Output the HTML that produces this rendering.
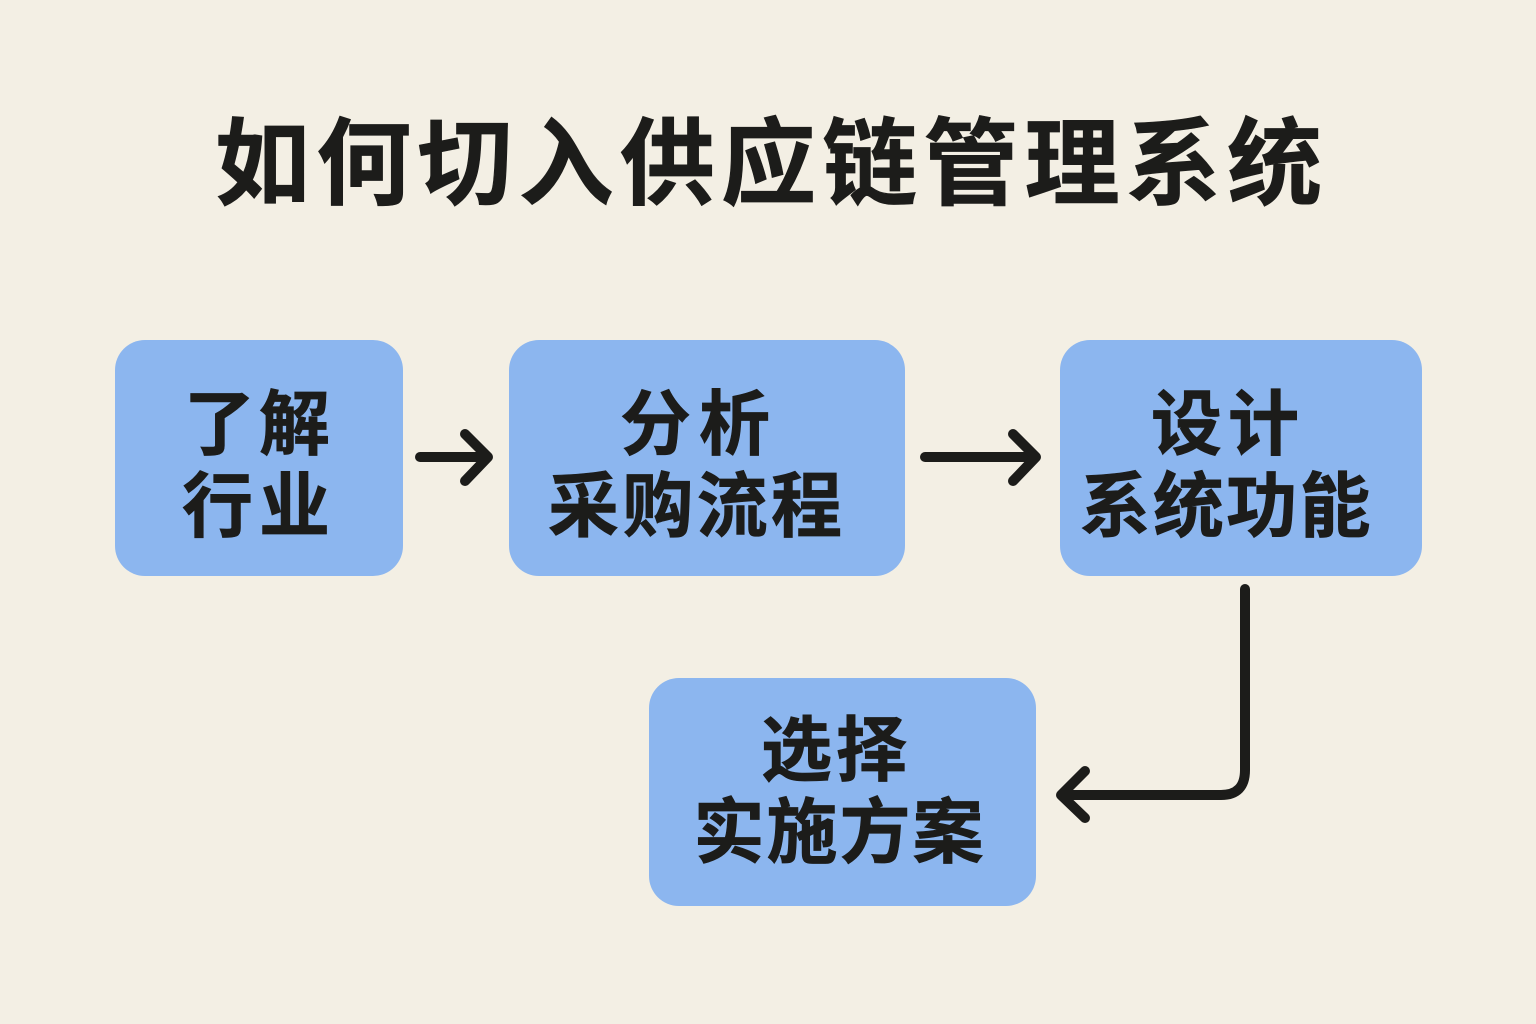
<!DOCTYPE html>
<html lang="zh">
<head>
<meta charset="utf-8">
<style>
html,body{margin:0;padding:0;background:#f3efe4;}
svg{display:block;}
text{font-family:"Liberation Sans","Noto Sans CJK SC",sans-serif;font-weight:700;fill:#1c1c1a;stroke:#1c1c1a;stroke-width:.7px;}
</style>
</head>
<body>
<svg width="1536" height="1024" viewBox="0 0 1536 1024" xmlns="http://www.w3.org/2000/svg">
<rect width="1536" height="1024" fill="#f3efe4"/>
<text x="768.5" y="197" font-size="95" text-anchor="middle" textLength="1107" lengthAdjust="spacing">如何切入供应链管理系统</text>

<rect x="115" y="340" width="288" height="236" rx="30" fill="#8cb6ef"/>
<rect x="509" y="340" width="396" height="236" rx="30" fill="#8cb6ef"/>
<rect x="1060" y="340" width="362" height="236" rx="30" fill="#8cb6ef"/>
<rect x="649" y="678" width="387" height="228" rx="30" fill="#8cb6ef"/>

<text x="257" y="449" font-size="71" text-anchor="middle" textLength="146" lengthAdjust="spacing">了解</text>
<text x="256" y="531" font-size="71" text-anchor="middle" textLength="148" lengthAdjust="spacing">行业</text>
<text x="695" y="449" font-size="71" text-anchor="middle" textLength="150" lengthAdjust="spacing">分析</text>
<text x="695" y="531" font-size="71" text-anchor="middle" textLength="294" lengthAdjust="spacing">采购流程</text>
<text x="1225" y="449" font-size="71" text-anchor="middle" textLength="148" lengthAdjust="spacing">设计</text>
<text x="1225" y="531" font-size="71" text-anchor="middle" textLength="291" lengthAdjust="spacing">系统功能</text>
<text x="834" y="775" font-size="71" text-anchor="middle" textLength="146" lengthAdjust="spacing">选择</text>
<text x="838.5" y="857" font-size="71" text-anchor="middle" textLength="290" lengthAdjust="spacing">实施方案</text>

<g fill="none" stroke="#1c1c1a" stroke-width="10" stroke-linecap="round" stroke-linejoin="round">
<path d="M420 457H486"/>
<path d="M465 434L488 457L465 481"/>
<path d="M925 457H1034"/>
<path d="M1013 434L1036 457L1013 481"/>
<path d="M1245 589V770Q1245 795 1221 795H1062"/>
<path d="M1085 771L1061 795L1085 818"/>
</g>
</svg>
</body>
</html>
